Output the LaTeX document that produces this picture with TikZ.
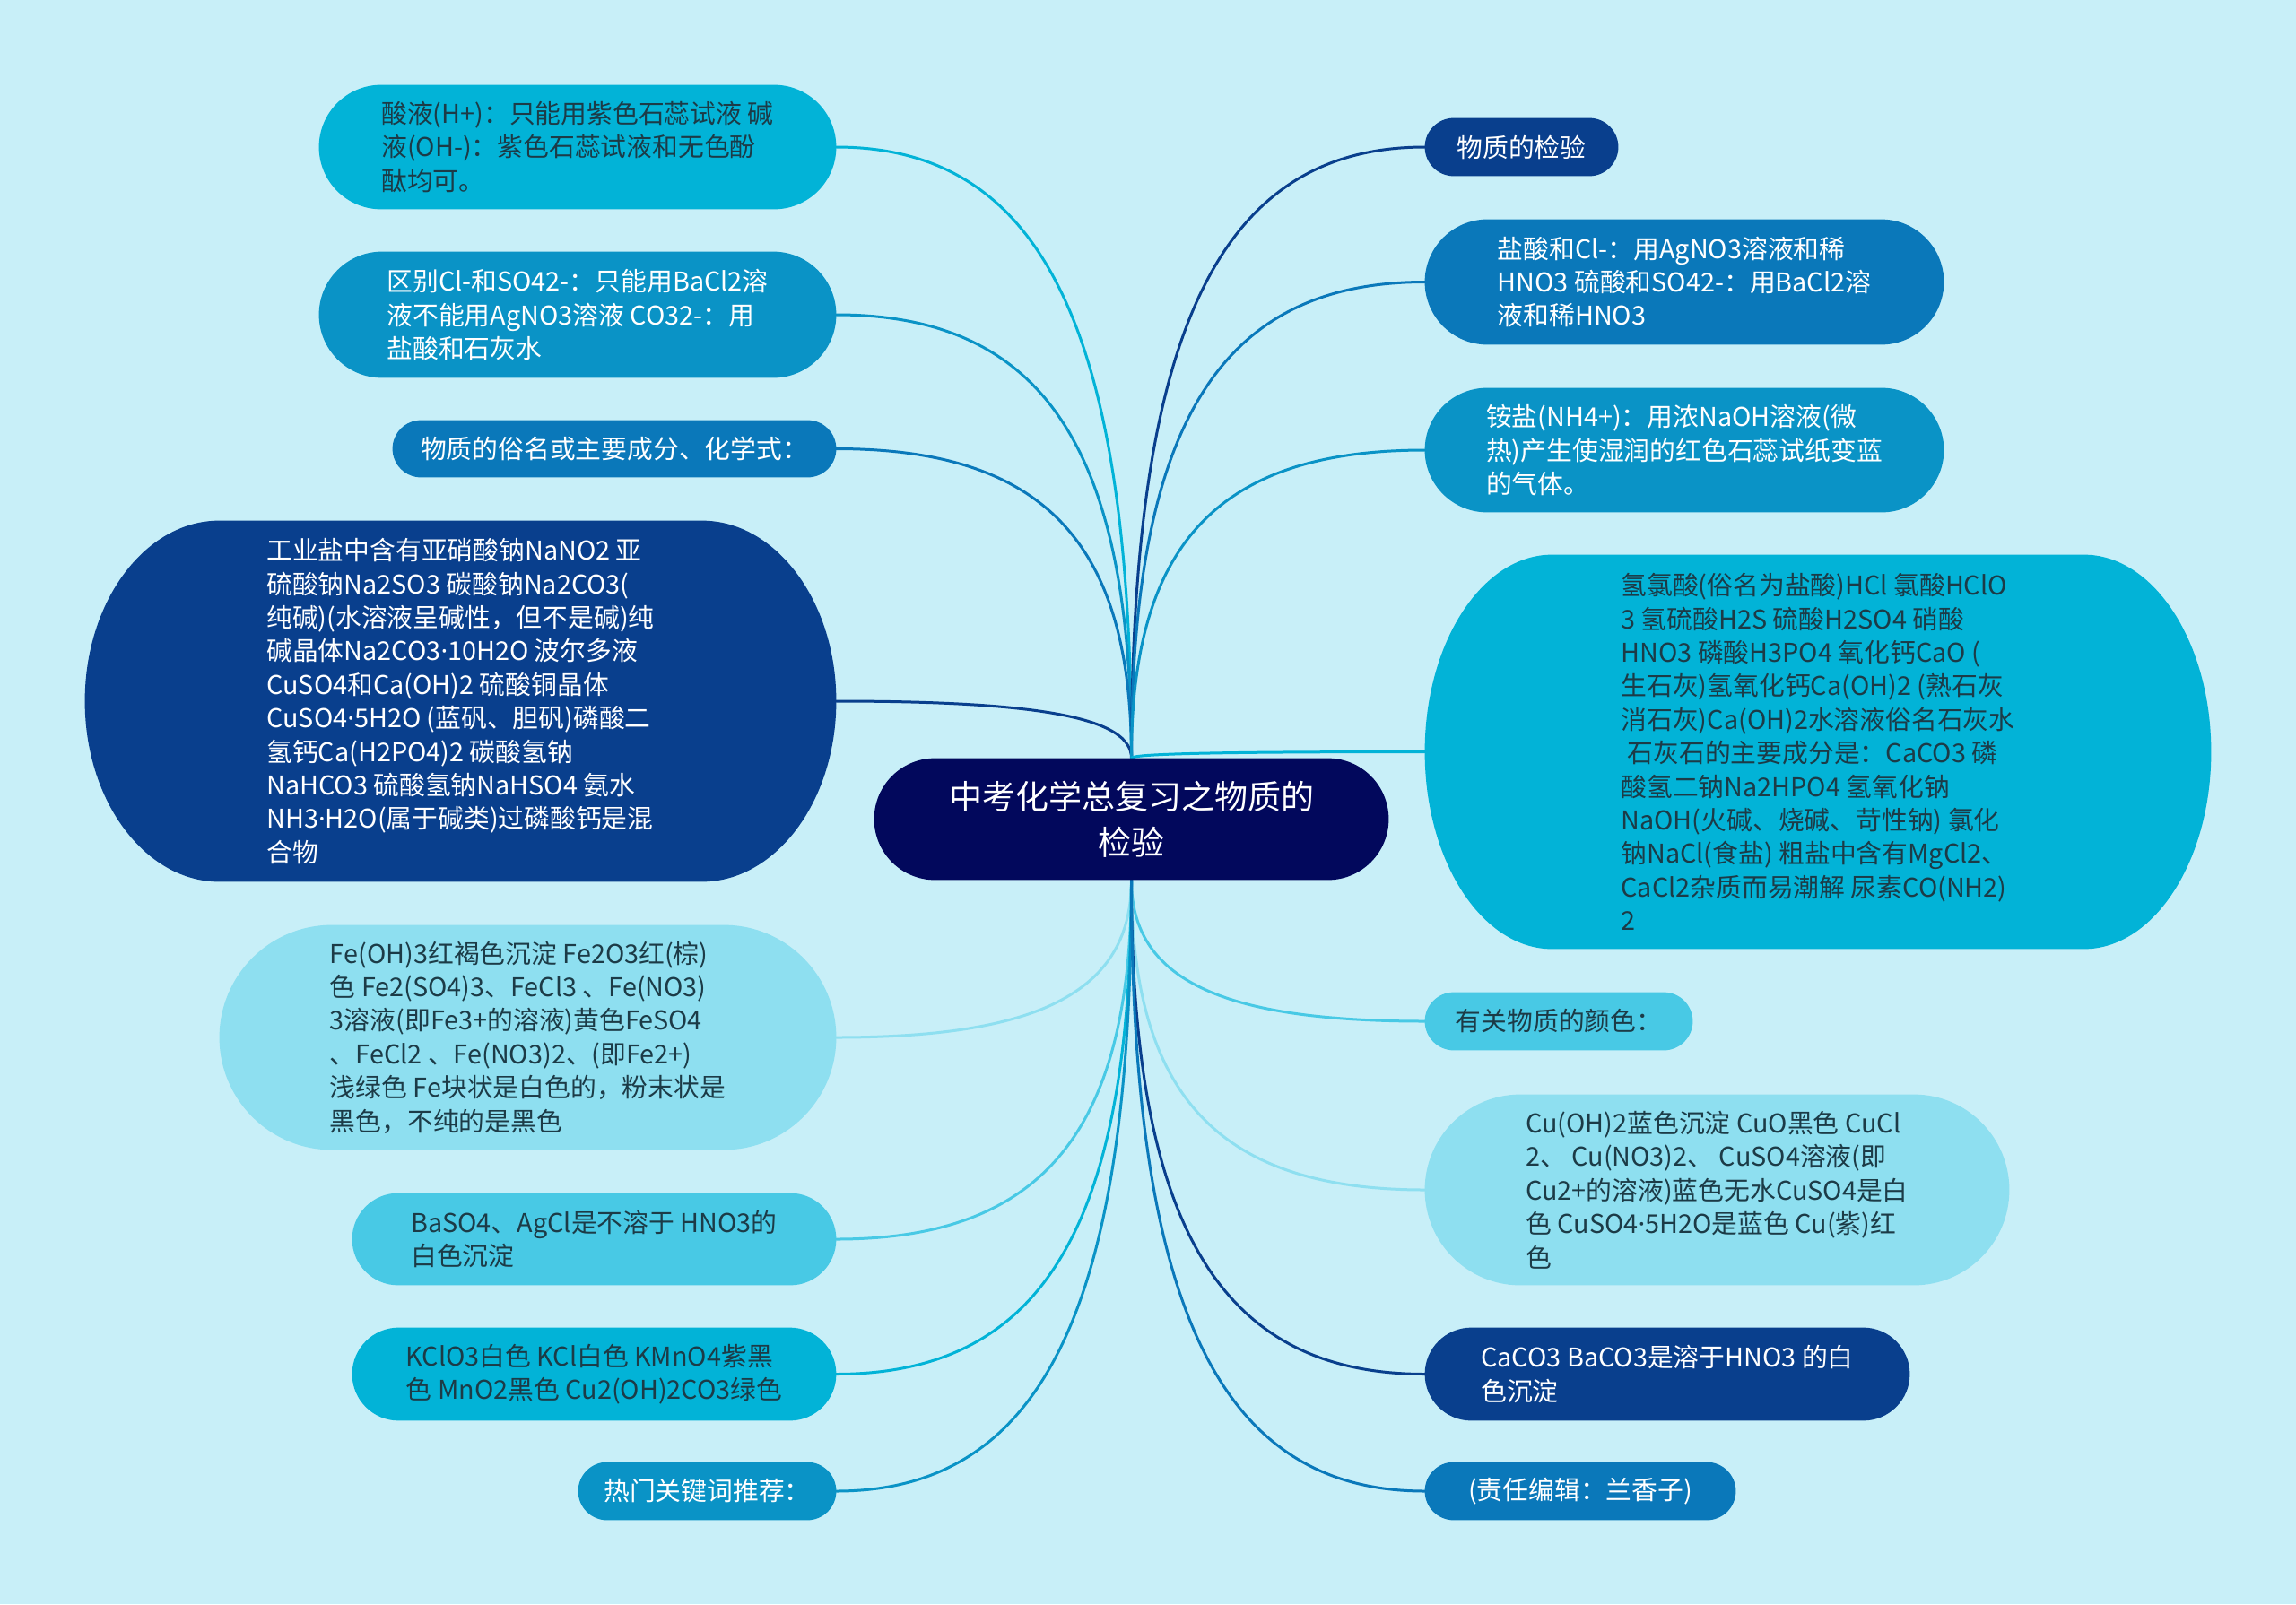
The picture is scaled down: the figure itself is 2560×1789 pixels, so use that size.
\documentclass[tikz,border=0pt]{standalone}
\usepackage{fontspec}
\setmainfont{Noto Sans CJK SC}
\newfontfamily\dotfont{Noto Sans}
\usetikzlibrary{calc,backgrounds}

\definecolor{bgcyan}{HTML}{C8EFF8}
\definecolor{rootblue}{HTML}{02085C}
\definecolor{darkblue}{HTML}{093F8D}
\definecolor{midblue}{HTML}{0A93C6}
\definecolor{seablue}{HTML}{0A78BA}
\definecolor{cyanblue}{HTML}{02B3D7}
\definecolor{lightcyan}{HTML}{48C9E5}
\definecolor{palecyan}{HTML}{8EDFF0}
\definecolor{inkdark}{HTML}{1C3B47}

% narrow middle dot (the CJK font sets it full width)
\newcommand\md{{\dotfont ·}}

% background of a topic: flat top and bottom, elliptic ends
\newcommand\topicbg[3]{%
  \fill[#3] let \p1=(#1.north west), \p2=(#1.south east),
    \n2={(\y1-\y2)/2}, \n1={min(#2,\n2)}, \n3={0.552*\n1}, \n4={0.552*\n2} in
    ({\x1+\n1},\y1) -- ({\x2-\n1},\y1)
    .. controls ({\x2-\n1+\n3},\y1) and (\x2,{\y1-\n2+\n4}) .. (\x2,{\y1-\n2})
    .. controls (\x2,{\y2+\n2-\n4}) and ({\x2-\n1+\n3},\y2) .. ({\x2-\n1},\y2)
    -- ({\x1+\n1},\y2)
    .. controls ({\x1+\n1-\n3},\y2) and (\x1,{\y2+\n2-\n4}) .. (\x1,{\y2+\n2})
    .. controls (\x1,{\y1-\n2+\n4}) and ({\x1+\n1-\n3},\y1) .. cycle;
}

\tikzset{
  topic/.style={inner sep=0pt, align=left, text=inkdark,
    font=\fontsize{14.4}{18.7}\selectfont},
  sz/.style 2 args={minimum width={#1*0.5pt}, minimum height={#2*0.5pt}},
  link/.style={line width=1.5pt, line cap=round},
}

\begin{document}
\begin{tikzpicture}[x=0.5pt, y=-0.5pt]
    \useasboundingbox (0,0) rectangle (2560,1789);

    % Central topic
    \node[topic, sz={573}{135}, align=center, text=white,
      font=\fontsize{18.5}{25.3}\selectfont] (root) at (1261.5,913.5)
      {中考化学总复习之物质的\\检验};

    % Left branch
    \node[topic, sz={576}{138}] (L1) at (644,164)
      {酸液(H+)：只能用紫色石蕊试液 碱\\液(OH-)：紫色石蕊试液和无色酚\\酞均可。};
    \node[topic, sz={576}{140}, text=white] (L2) at (644,351)
      {区别Cl-和SO42-：只能用BaCl2溶\\液不能用AgNO3溶液 CO32-：用\\盐酸和石灰水};
    \node[topic, sz={494}{63}, text=white] (L3) at (685,500.5)
      {物质的俗名或主要成分、化学式：};
    \node[topic, sz={837}{402}, text=white] (L4) at (513.5,782)
      {工业盐中含有亚硝酸钠NaNO2 亚\\硫酸钠Na2SO3 碳酸钠Na2CO3(\\纯碱)(水溶液呈碱性，但不是碱)纯\\碱晶体Na2CO3\md10H2O 波尔多液\\CuSO4和Ca(OH)2 硫酸铜晶体\\CuSO4\md5H2O (蓝矾、胆矾)磷酸二\\氢钙Ca(H2PO4)2 碳酸氢钠\\NaHCO3 硫酸氢钠NaHSO4 氨水\\NH3\md H2O(属于碱类)过磷酸钙是混\\合物};
    \node[topic, sz={687}{250}] (L5) at (588.5,1157)
      {Fe(OH)3红褐色沉淀 Fe2O3红(棕)\\色 Fe2(SO4)3、FeCl3 、Fe(NO3)\\3溶液(即Fe3+的溶液)黄色FeSO4\\、FeCl2 、Fe(NO3)2、(即Fe2+)\\浅绿色 Fe块状是白色的，粉末状是\\黑色，不纯的是黑色};
    \node[topic, sz={539}{102}] (L6) at (662.5,1382)
      {BaSO4、AgCl是不溶于 HNO3的\\白色沉淀};
    \node[topic, sz={539}{103}] (L7) at (662.5,1532.5)
      {KClO3白色 KCl白色 KMnO4紫黑\\色 MnO2黑色 Cu2(OH)2CO3绿色};
    \node[topic, sz={287}{64}, text=white] (L8) at (788.5,1663)
      {热门关键词推荐：};

    % Right branch
    \node[topic, sz={215}{64}, text=white] (R1) at (1696.5,164)
      {物质的检验};
    \node[topic, sz={578}{139}, text=white] (R2) at (1878,314.5)
      {盐酸和Cl-：用AgNO3溶液和稀\\HNO3 硫酸和SO42-：用BaCl2溶\\液和稀HNO3};
    \node[topic, sz={578}{138}, text=white] (R3) at (1878,502)
      {铵盐(NH4+)：用浓NaOH溶液(微\\热)产生使湿润的红色石蕊试纸变蓝\\的气体。};
    \node[topic, sz={876}{439}] (R4) at (2027,838.5)
      {氢氯酸(俗名为盐酸)HCl 氯酸HClO\\3 氢硫酸H2S 硫酸H2SO4 硝酸\\HNO3 磷酸H3PO4 氧化钙CaO (\\生石灰)氢氧化钙Ca(OH)2 (熟石灰\\消石灰)Ca(OH)2水溶液俗名石灰水\\\hspace*{0.25em}石灰石的主要成分是：CaCO3 磷\\酸氢二钠Na2HPO4 氢氧化钠\\NaOH(火碱、烧碱、苛性钠) 氯化\\钠NaCl(食盐) 粗盐中含有MgCl2、\\CaCl2杂质而易潮解 尿素CO(NH2)\\2};
    \node[topic, sz={298}{64}] (R5) at (1738,1139)
      {有关物质的颜色：};
    \node[topic, sz={651}{212}] (R6) at (1914.5,1327)
      {Cu(OH)2蓝色沉淀 CuO黑色 CuCl\\2、 Cu(NO3)2、 CuSO4溶液(即\\Cu2+的溶液)蓝色无水CuSO4是白\\色 CuSO4\md5H2O是蓝色 Cu(紫)红\\色};
    \node[topic, sz={540}{103}, text=white] (R7) at (1859,1532.5)
      {CaCO3 BaCO3是溶于HNO3 的白\\色沉淀};
    \node[topic, sz={346}{64}, text=white] (R8) at (1762,1663)
      {(责任编辑：兰香子)};

    \begin{scope}[on background layer]
        % Canvas
        \fill[bgcyan] (0,0) rectangle (2560,1789);

        % Connectors
        \foreach \tp/\col in {L1/cyanblue, L2/midblue, L3/seablue, L4/darkblue}
            \draw[link, \col] (root.north)
              .. controls ($(root.north)!0.7!(root.north |- \tp.east)$)
                 and ($(root.north |- \tp.east)!0.3!(\tp.east)$) .. (\tp.east);
        \foreach \tp/\col in {R1/darkblue, R2/seablue, R3/midblue, R4/cyanblue}
            \draw[link, \col] (root.north)
              .. controls ($(root.north)!0.7!(root.north |- \tp.west)$)
                 and ($(root.north |- \tp.west)!0.3!(\tp.west)$) .. (\tp.west);
        \foreach \tp/\col in {L5/palecyan, L6/lightcyan, L7/cyanblue, L8/midblue}
            \draw[link, \col] (root.south)
              .. controls ($(root.south)!0.7!(root.south |- \tp.east)$)
                 and ($(root.south |- \tp.east)!0.3!(\tp.east)$) .. (\tp.east);
        \foreach \tp/\col in {R5/lightcyan, R6/palecyan, R7/darkblue, R8/seablue}
            \draw[link, \col] (root.south)
              .. controls ($(root.south)!0.7!(root.south |- \tp.west)$)
                 and ($(root.south |- \tp.west)!0.3!(\tp.west)$) .. (\tp.west);

        % Topic shapes
        \foreach \tp/\col/\rad in {root/rootblue/999, L1/cyanblue/999, L2/midblue/999,
            L3/seablue/999, L4/darkblue/75, L5/palecyan/999, L6/lightcyan/999,
            L7/cyanblue/999, L8/midblue/999, R1/darkblue/999, R2/seablue/999,
            R3/midblue/999, R4/cyanblue/71, R5/lightcyan/999, R6/palecyan/999,
            R7/darkblue/999, R8/seablue/999}
            {\topicbg{\tp}{\rad}{\col}}
    \end{scope}
\end{tikzpicture}
\end{document}
